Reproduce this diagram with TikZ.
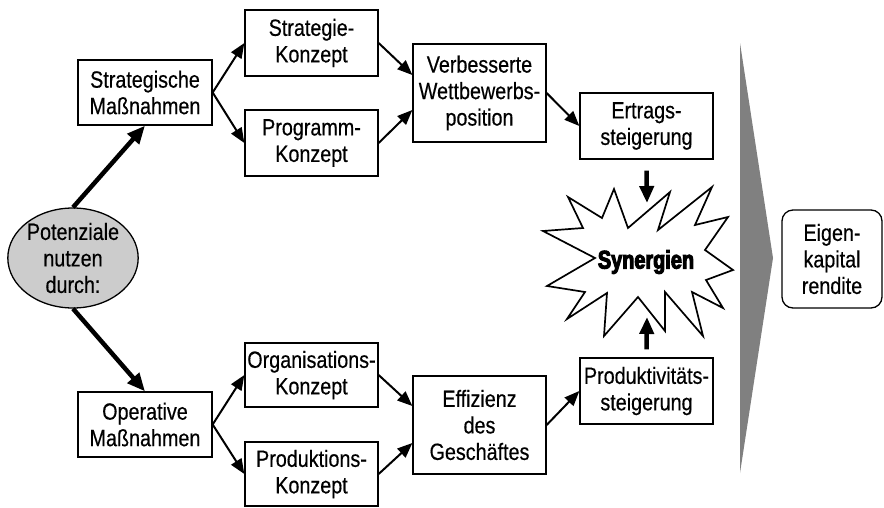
\documentclass[tikz,border=0pt]{standalone}
\usepackage{fontspec}
\setmainfont{Liberation Sans}[FakeStretch=0.84, FakeBold=0.4]
\newfontfamily\heavyfont{Liberation Sans}[FakeStretch=0.78, BoldFeatures={FakeBold=4}]
\usetikzlibrary{arrows.meta,shapes.geometric}
\definecolor{trigray}{RGB}{128,128,128}
\definecolor{ellgray}{RGB}{204,204,204}
\begin{document}
\begin{tikzpicture}[x=1pt,y=-1pt,
  box/.style={draw, line width=1.3pt, fill=white, align=center, inner sep=0pt,
    font=\fontsize{23.5}{26.5}\selectfont},
  arr/.style={line width=2pt, -{Triangle[length=15pt,width=12pt]}},
  bigarr/.style={line width=4.5pt, -{Triangle[length=18pt,width=15pt]}}]
\useasboundingbox (0,0) rectangle (884,507);

% gray triangle
\fill[trigray] (740,43) -- (773,258) -- (740,473) -- cycle;

% starburst
\draw[line width=1.7pt, fill=white, line join=miter]
  (543,231) -- (583,228) -- (568,197) -- (602,218) -- (614,189) -- (628,228)
  -- (670,192) -- (658,230) -- (712,187) -- (695,225) -- (728,217) -- (705,250)
  -- (733,270) -- (706,280) -- (723,308) -- (692,292) -- (703,336) -- (665,292)
  -- (665,331) -- (638,297) -- (604,336) -- (607,293) -- (567,319) -- (585,292)
  -- (547,286) -- (595,258) -- cycle;
\node (syn) at (646,262) {\fontsize{25.5}{27}\selectfont\heavyfont\bfseries Synergien};

% ellipse
\node[ellipse, draw, line width=1.3pt, fill=ellgray, minimum width=126pt, minimum height=100pt,
  inner sep=0pt, align=center, font=\fontsize{23.5}{26.5}\selectfont] (pot) at (73,258)
  {Potenziale\\nutzen\\durch:};

% boxes
\node[box, minimum width=134pt, minimum height=65pt] (sm) at (145,92.5) {Strategische\\Maßnahmen};
\node[box, minimum width=134pt, minimum height=65pt] (om) at (145,424.5) {Operative\\Maßnahmen};
\node[box, minimum width=133pt, minimum height=66pt] (sk) at (311.5,43) {Strategie-\\Konzept};
\node[box, minimum width=133pt, minimum height=66pt] (pk) at (311.5,143) {Programm-\\Konzept};
\node[box, minimum width=133pt, minimum height=64pt] (ok) at (311.5,375) {Organisations-\\Konzept};
\node[box, minimum width=133pt, minimum height=64pt] (prk) at (311.5,474) {Produktions-\\Konzept};
\node[box, minimum width=133pt, minimum height=98pt] (vw) at (479.5,93) {Verbesserte\\Wettbewerbs-\\position};
\node[box, minimum width=133pt, minimum height=98pt] (eff) at (479.5,425) {Effizienz\\des\\Geschäftes};
\node[box, minimum width=133pt, minimum height=66pt] (er) at (646.5,126) {Ertrags-\\steigerung};
\node[box, minimum width=133pt, minimum height=66pt] (pr) at (646.5,391) {Produktivitäts-\\steigerung};
\node[box, rounded corners=11pt, minimum width=100pt, minimum height=98pt] (ek) at (832,259) {Eigen-\\kapital\\rendite};

% connectors
\draw[bigarr] (pot.north) -- (sm.south);
\draw[bigarr] (pot.south) -- (om.north);
\draw[arr] (sm.east) -- (sk.west);
\draw[arr] (sm.east) -- (pk.west);
\draw[arr] (om.east) -- (ok.west);
\draw[arr] (om.east) -- (prk.west);
\draw[arr] (sk.east) -- ([yshift=18pt]vw.west);
\draw[arr] (pk.east) -- ([yshift=-17pt]vw.west);
\draw[arr] (ok.east) -- ([yshift=19pt]eff.west);
\draw[arr] (prk.east) -- ([yshift=-18pt]eff.west);
\draw[arr] (vw.east) -- (er.west);
\draw[arr] (eff.east) -- (pr.west);
\coordinate (btop) at (647,203);
\coordinate (bbot) at (647,317);
\draw[line width=4.5pt, -{Triangle[length=17pt,width=14pt]}] ([yshift=-11pt]er.south) -- (btop);
\draw[line width=4.5pt, -{Triangle[length=17pt,width=14pt]}] ([yshift=8pt]pr.north) -- (bbot);
\end{tikzpicture}
\end{document}
